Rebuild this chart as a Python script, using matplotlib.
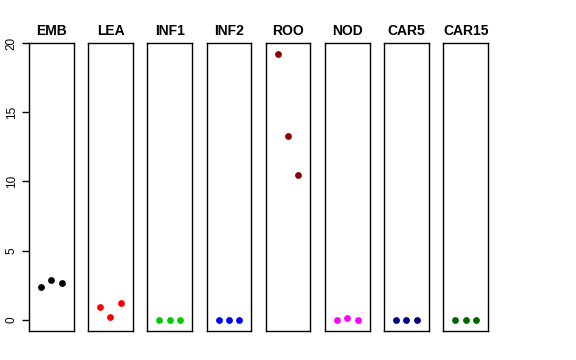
import matplotlib
matplotlib.use("Agg")
import matplotlib.pyplot as plt

plt.rcParams["font.family"] = ["Liberation Sans", "DejaVu Sans"]

categories = ["EMB", "LEA", "INF1", "INF2", "ROO", "NOD", "CAR5", "CAR15"]
values = [
    [2.40, 2.87, 2.67],
    [0.92, 0.24, 1.25],
    [0.0, 0.0, 0.0],
    [0.0, 0.0, 0.0],
    [19.23, 13.30, 10.49],
    [0.0, 0.12, 0.03],
    [0.0, 0.0, 0.0],
    [0.0, 0.0, 0.0],
]
colors = ["black", "red", "#00CD00", "blue", "#8B0000", "magenta", "#000080", "#006400"]
yticks = [0, 5, 10, 15, 20]

W, H = 576, 360
fig = plt.figure(figsize=(W / 100, H / 100), dpi=100)
left0 = 29
step = 59.2
pw = 44.5
top, bottom = 43, 331
for i, (cat, vals, col) in enumerate(zip(categories, values, colors)):
    x0 = left0 + i * step
    ax = fig.add_axes([x0 / W, 1 - bottom / H, pw / W, (bottom - top) / H])
    ax.scatter([1, 2, 3], vals, s=24, color=col, zorder=3, linewidths=0)
    ax.set_xlim(-0.16, 4.16)
    ax.set_ylim(-0.8, 20.0)
    ax.set_xticks([])
    for sp in ax.spines.values():
        sp.set_linewidth(1.0)
        sp.set_color("black")
    ax.set_title(cat, fontsize=10, fontweight="bold", pad=6)
    if i == 0:
        ax.set_yticks(yticks)
        ax.set_yticklabels([str(t) for t in yticks], rotation=90, va="center", fontsize=8.5)
        ax.tick_params(axis="y", length=5, width=1, pad=3)
    else:
        ax.set_yticks([])

fig.savefig("out.png", dpi=100)
